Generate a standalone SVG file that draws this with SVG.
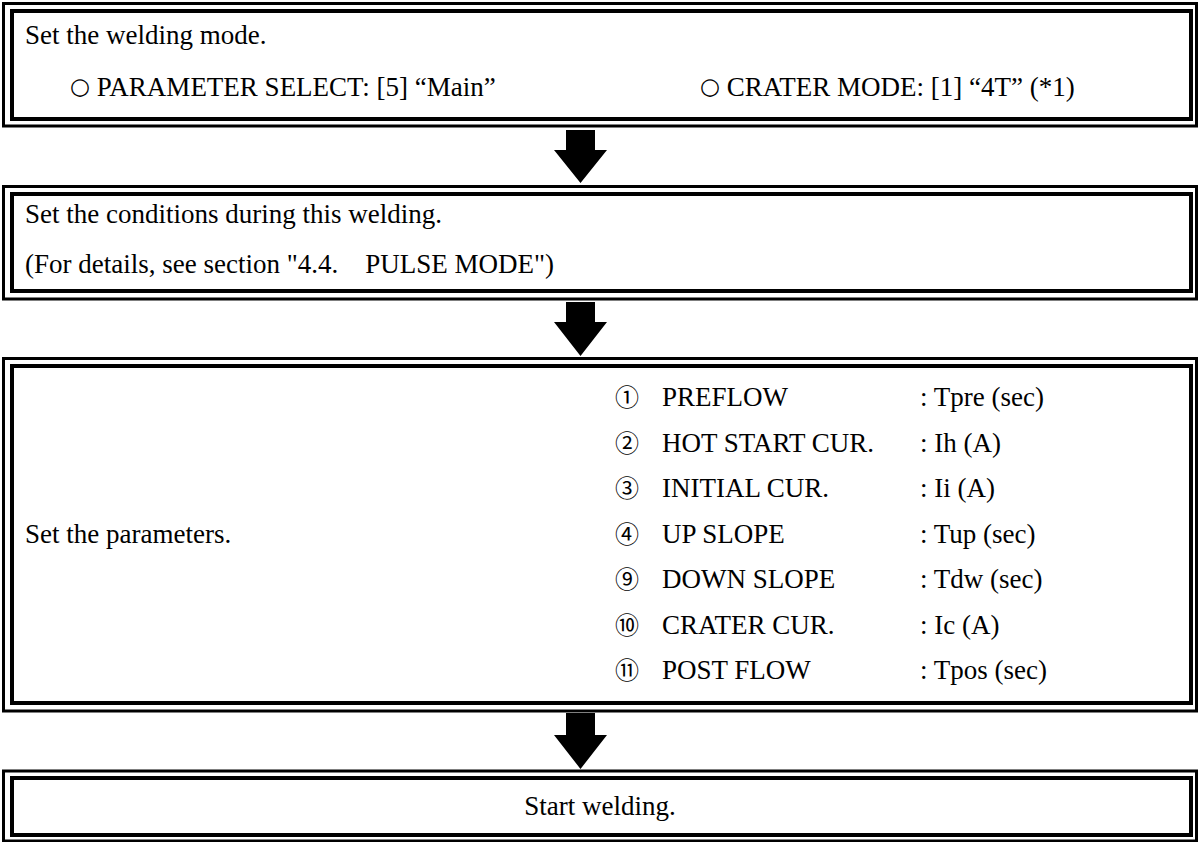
<svg xmlns="http://www.w3.org/2000/svg" width="1198" height="842" viewBox="0 0 1198 842">
<style>
.o{fill:none;stroke:#000;stroke-width:3}
.i{fill:none;stroke:#000;stroke-width:4}
text{font-family:"Liberation Serif","Times New Roman",serif;font-size:27px;fill:#000}
.c{font-family:"Noto Sans CJK JP","DejaVu Sans",sans-serif;font-size:24px}
.ci{font-family:"DejaVu Sans",sans-serif;font-size:23px}
.ar{fill:#000}
</style>
<rect width="1198" height="842" fill="#fff"/>
<g id="node1">
<rect class="o" x="3.5" y="3.5" width="1193" height="122.5"/>
<rect class="i" x="12" y="11" width="1179" height="108"/>
<text x="25" y="44">Set the welding mode.</text>
<text x="70" y="96"><tspan class="ci" dy="-2">○</tspan><tspan dy="2">  PARAMETER SELECT: [5] “Main”</tspan></text>
<text x="700" y="96"><tspan class="ci" dy="-2">○</tspan><tspan dy="2">  CRATER MODE: [1] “4T” (*1)</tspan></text>
</g>
<g id="node2">
<rect class="o" x="3.5" y="186.5" width="1193" height="112.5"/>
<rect class="i" x="12" y="194" width="1179" height="97"/>
<text x="25" y="223">Set the conditions during this welding.</text>
<text x="25" y="273" xml:space="preserve">(For details, see section "4.4.    PULSE MODE")</text>
</g>
<g id="node3">
<rect class="o" x="3.5" y="358.5" width="1193" height="352.5"/>
<rect class="i" x="12" y="366" width="1179" height="337"/>
<text x="25" y="542.5">Set the parameters.</text>
<text class="c" x="615" y="406">①</text><text x="662" y="406">PREFLOW</text><text x="920" y="406">: Tpre (sec)</text>
<text class="c" x="615" y="451.5">②</text><text x="662" y="451.5">HOT START CUR.</text><text x="920" y="451.5">: Ih (A)</text>
<text class="c" x="615" y="497">③</text><text x="662" y="497">INITIAL CUR.</text><text x="920" y="497">: Ii (A)</text>
<text class="c" x="615" y="542.5">④</text><text x="662" y="542.5">UP SLOPE</text><text x="920" y="542.5">: Tup (sec)</text>
<text class="c" x="615" y="588">⑨</text><text x="662" y="588">DOWN SLOPE</text><text x="920" y="588">: Tdw (sec)</text>
<text class="c" x="615" y="633.5">⑩</text><text x="662" y="633.5">CRATER CUR.</text><text x="920" y="633.5">: Ic (A)</text>
<text class="c" x="615" y="679">⑪</text><text x="662" y="679">POST FLOW</text><text x="920" y="679">: Tpos (sec)</text>
</g>
<g id="node4">
<rect class="o" x="3.5" y="771" width="1193" height="70"/>
<rect class="i" x="12" y="778" width="1179" height="57"/>
<text x="600" y="815" text-anchor="middle">Start welding.</text>
</g>
<g id="connectors">
<polygon class="ar" points="566,130 595,130 595,150 607,150 580.5,183 554,150 566,150"/>
<polygon class="ar" points="566,302 595,302 595,322 607,322 580.5,356 554,322 566,322"/>
<polygon class="ar" points="566,713 595,713 595,735 607,735 580.5,769 554,735 566,735"/>
</g>
</svg>
